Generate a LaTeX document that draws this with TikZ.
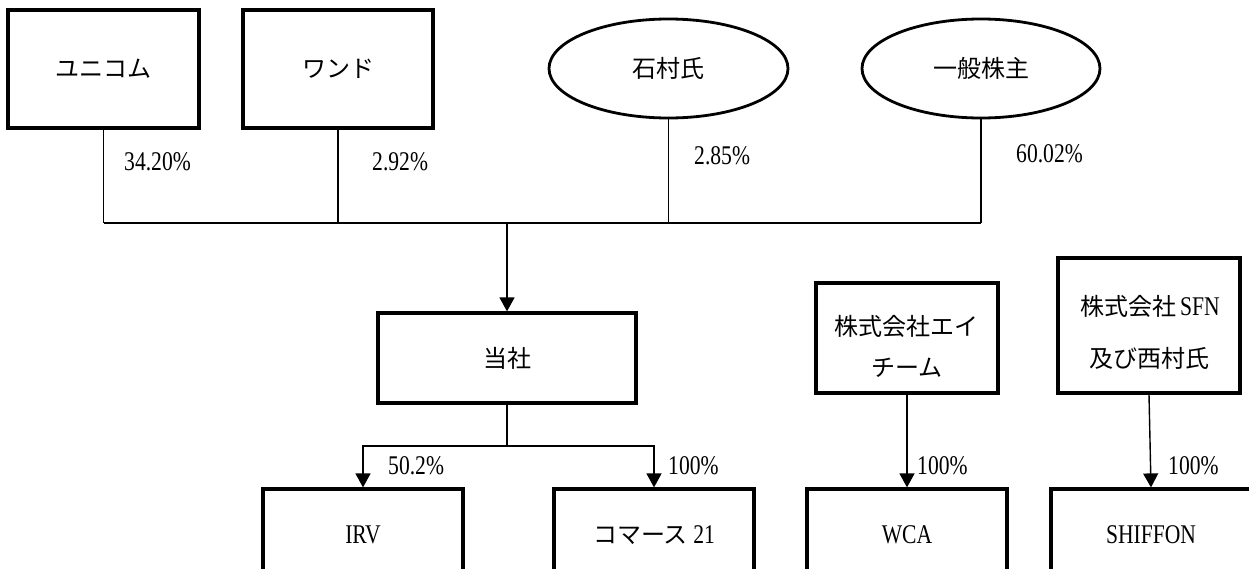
\documentclass[tikz,border=0pt]{standalone}
\usepackage{fontspec}
\setmainfont{Liberation Serif}[FakeStretch=0.8]
\newfontfamily\jp{Noto Sans CJK JP}
\usetikzlibrary{shapes.geometric,arrows.meta}
\newcommand\latn[1]{{\rmfamily\fontsize{27}{30}\selectfont #1}}
\begin{document}
\begin{tikzpicture}[x=1pt,y=-1pt,
  box/.style={draw,line width=3.2pt,inner sep=0pt,font=\fontsize{24}{30}\selectfont\jp},
  oval/.style={ellipse,draw,line width=2.8pt,inner sep=0pt,font=\fontsize{24}{30}\selectfont\jp},
  txt/.style={inner sep=0pt,font=\fontsize{24}{30}\selectfont\jp},
  pct/.style={anchor=west,inner sep=0pt,font=\rmfamily\fontsize{27}{30}\selectfont},
  link/.style={line width=1.4pt},
  arr/.style={line width=1.4pt,-{Triangle[width=15pt,length=14pt]}}]
\path[use as bounding box] (0,0) rectangle (1249,568);
\clip (0,0) rectangle (1249,568);
% top shareholders
\node[box,minimum width=191,minimum height=118] (uni) at (103.5,69) {ユニコム};
\node[box,minimum width=190,minimum height=118] (wand) at (338,69) {ワンド};
\node[oval,minimum width=239,minimum height=99] (ishi) at (668.5,68.5) {石村氏};
\node[oval,minimum width=238,minimum height=99] (ippan) at (981,68.5) {一般株主};
% middle / bottom
\node[box,minimum width=258,minimum height=90] (tosha) at (507,358) {当社};
\node[box,minimum width=200,minimum height=92] (irv) at (363,535) {\latn{IRV}};
\node[box,minimum width=200,minimum height=92] (com) at (654,535) {コマース\ \latn{21}};
\node[box,minimum width=182,minimum height=110] (eichi) at (907,338) {};
\node[txt] (eichi1) at (906,326) {株式会社エイ};
\node[txt] (eichi2) at (907,368) {チーム};
\node[box,minimum width=200,minimum height=92] (wca) at (907,535) {\latn{WCA}};
\node[box,minimum width=182,minimum height=135] (sfn) at (1149,325.5) {};
\node[txt] (sfn1) at (1150,306) {株式会社\,\latn{SFN}};
\node[txt] (sfn2) at (1149,358) {及び西村氏};
\node[box,minimum width=200,minimum height=92] (shiffon) at (1151,535) {\latn{SHIFFON}};
% connectors
\coordinate (bus) at (507,223);
\coordinate (br) at (507,446);
\draw[link] (uni.south) -- (uni.south |- bus);
\draw[link] (wand.south) -- (wand.south |- bus);
\draw[link] (ishi.south) -- (ishi.south |- bus);
\draw[link] (ippan.south) -- (ippan.south |- bus);
\draw[link] (uni.south |- bus) -- (ippan.south |- bus);
\draw[arr] (bus) -- (tosha.north);
\draw[link] (tosha.south) -- (br);
\draw[arr] (br) -| (irv.north);
\draw[arr] (br) -| (com.north);
\draw[arr] (eichi.south) -- (wca.north);
\draw[arr] (sfn.south) -- (shiffon.north);
% labels
\node[pct] (l1) at (124,162) {34.20\%};
\node[pct] (l2) at (372,162) {2.92\%};
\node[pct] (l3) at (694,156) {2.85\%};
\node[pct] (l4) at (1016,154) {60.02\%};
\node[pct] (l5) at (388,466) {50.2\%};
\node[pct] (l6) at (668,466) {100\%};
\node[pct] (l7) at (917,466) {100\%};
\node[pct] (l8) at (1168,466) {100\%};
\end{tikzpicture}
\end{document}
